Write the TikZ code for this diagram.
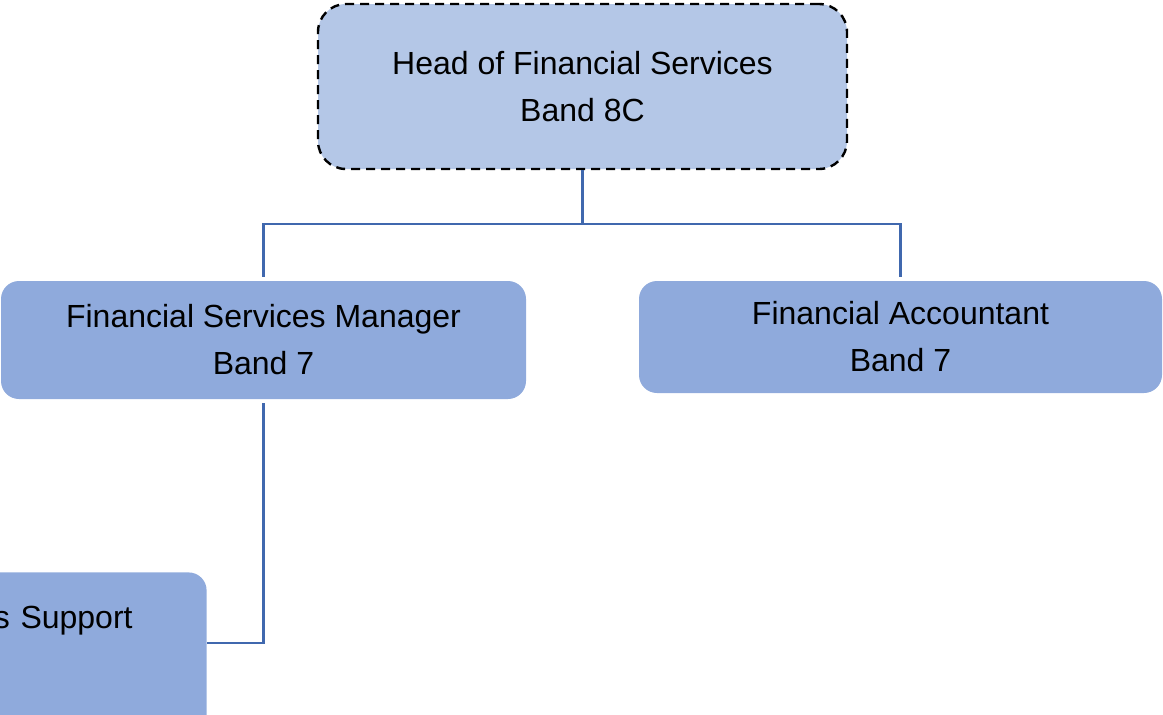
\documentclass[tikz,border=0pt]{standalone}
\usepackage{fontspec}
\setmainfont{Liberation Sans}
\definecolor{headfill}{HTML}{B4C7E7}
\definecolor{bandfill}{HTML}{8FAADC}
\definecolor{linkcol}{HTML}{4068AE}

\begin{document}
\begin{tikzpicture}[
  x=0.5pt, y=-0.5pt,
  font=\fontsize{16}{23.5}\selectfont,
  headbox/.style={draw=black, dash pattern=on 4.5pt off 3pt, line width=1.2pt, fill=headfill,
    rounded corners=14pt, minimum width=264.5pt, minimum height=82.5pt, align=center},
  bandbox/.style={fill=bandfill, rounded corners=9pt, align=center},
  link/.style={draw=linkcol, line width=1.2pt}
]
\clip (0,0) rectangle (1163,714);

\node[headbox] (head) at (582.5,86.5) {Head of Financial Services\\Band 8C};
\node[bandbox, minimum width=262.5pt, minimum height=59pt] (fsm) at (263.5,340) {Financial Services Manager\\Band 7};
\node[bandbox, minimum width=261.5pt, minimum height=56pt] (fa) at (900.5,337) {Financial Accountant\\Band 7};
\node[bandbox, anchor=north east, text width=84.5pt, inner xsep=37pt, inner ysep=17pt,
  text height=11pt, text depth=70pt, align=right] (support) at (207,572) {s Support};

% reporting lines
\coordinate (split) at (582.5,224);
\coordinate (elbow) at (263.5,643);
\draw[link] (head.south) -- (split);
\draw[link, shorten >=2pt] (split) -| (fsm.north);
\draw[link, shorten >=2pt] (split) -| (fa.north);
\draw[link, shorten <=2pt] (fsm.south) -- (elbow) -- (support.east |- elbow);
\end{tikzpicture}
\end{document}
